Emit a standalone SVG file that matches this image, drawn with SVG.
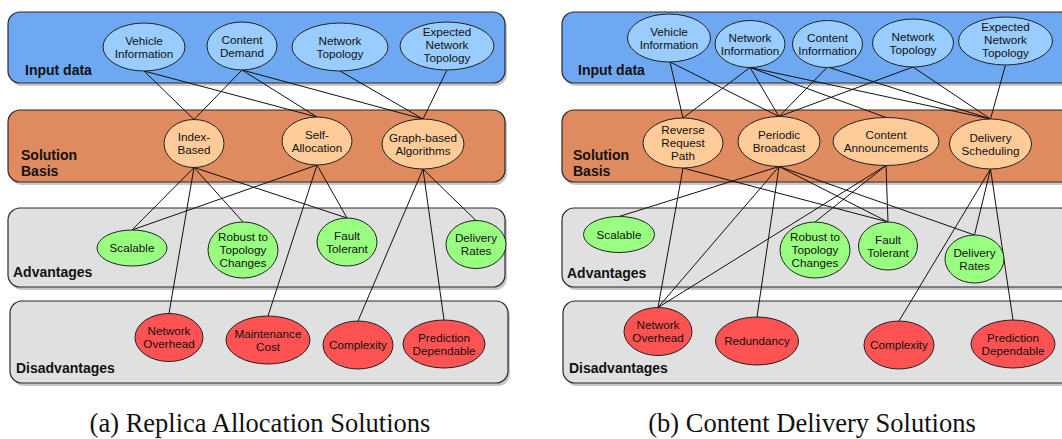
<svg xmlns="http://www.w3.org/2000/svg" width="1062" height="439" viewBox="0 0 1062 439">
<style>
.bg{fill:#ffffff}
.sh{fill:#000;opacity:0.22}
.band{stroke:#2a2a2a;stroke-width:1.2}
.inp{fill:#6FA8F2}
.sol{fill:#E08A5F}
.grey{fill:#E0E0E0}
.blab{font-family:"Liberation Sans",Arial,sans-serif;font-size:14px;font-weight:bold;fill:#111}
.n ellipse{stroke:#222;stroke-width:1}
.in ellipse{fill:#99CCFF}
.so ellipse{fill:#FFCC99}
.ad ellipse{fill:#99FF80}
.di ellipse{fill:#FF5252}
.n text{font-family:"Liberation Sans",Arial,sans-serif;font-size:11.7px;fill:#111;text-anchor:middle}
.e line{stroke:#111;stroke-width:1}
.cap{font-family:"Liberation Serif","Times New Roman",serif;font-size:26.5px;fill:#111;text-anchor:middle}
</style>
<rect class="bg" x="0" y="0" width="1062" height="439"/>

<g id="bands-left">
  <rect class="sh" x="10" y="15" width="497" height="71" rx="12"/>
  <rect class="band inp" x="8" y="12" width="497" height="71" rx="12"/>
  <rect class="sh" x="10" y="113" width="497" height="72" rx="12"/>
  <rect class="band sol" x="8" y="110" width="497" height="72" rx="12"/>
  <rect class="sh" x="10" y="211" width="497" height="79" rx="12"/>
  <rect class="band grey" x="8" y="208" width="497" height="79" rx="12"/>
  <rect class="sh" x="12" y="304" width="498" height="82" rx="12"/>
  <rect class="band grey" x="10" y="301" width="498" height="82" rx="12"/>
  <text class="blab" x="25" y="75">Input data</text>
  <text class="blab" x="21" y="160">Solution</text>
  <text class="blab" x="21" y="176">Basis</text>
  <text class="blab" x="13" y="277">Advantages</text>
  <text class="blab" x="16" y="373">Disadvantages</text>
</g>
<g id="bands-right">
  <rect class="sh" x="564" y="15" width="510" height="71" rx="12"/>
  <rect class="band inp" x="562" y="12" width="510" height="71" rx="12"/>
  <rect class="sh" x="564" y="113" width="510" height="72" rx="12"/>
  <rect class="band sol" x="562" y="110" width="510" height="72" rx="12"/>
  <rect class="sh" x="564" y="211" width="510" height="79" rx="12"/>
  <rect class="band grey" x="562" y="208" width="510" height="79" rx="12"/>
  <rect class="sh" x="565" y="304" width="510" height="82" rx="12"/>
  <rect class="band grey" x="563" y="301" width="510" height="82" rx="12"/>
  <text class="blab" x="578" y="75">Input data</text>
  <text class="blab" x="573" y="160">Solution</text>
  <text class="blab" x="573" y="176">Basis</text>
  <text class="blab" x="567" y="278">Advantages</text>
  <text class="blab" x="569" y="373">Disadvantages</text>
</g>

<g id="connectors" class="e">
  <!-- left upper -->
  <line x1="144" y1="71" x2="194" y2="119.5"/>
  <line x1="144" y1="71" x2="317" y2="117"/>
  <line x1="242" y1="70" x2="194" y2="119.5"/>
  <line x1="242" y1="70" x2="317" y2="117"/>
  <line x1="242" y1="70" x2="423" y2="119"/>
  <line x1="340" y1="71" x2="423" y2="119"/>
  <line x1="447" y1="70" x2="423" y2="119"/>
  <!-- left lower -->
  <line x1="194" y1="167.5" x2="132" y2="230"/>
  <line x1="194" y1="167.5" x2="169" y2="313.5"/>
  <line x1="194" y1="167.5" x2="243" y2="222"/>
  <line x1="194" y1="167.5" x2="347" y2="218"/>
  <line x1="317" y1="165" x2="132" y2="230"/>
  <line x1="317" y1="165" x2="268" y2="316"/>
  <line x1="317" y1="165" x2="347" y2="218"/>
  <line x1="423" y1="169" x2="358" y2="321"/>
  <line x1="423" y1="169" x2="444" y2="320"/>
  <line x1="423" y1="169" x2="476" y2="220.5"/>
  <!-- right upper -->
  <line x1="670" y1="62" x2="683" y2="118"/>
  <line x1="670" y1="62" x2="779" y2="116.5"/>
  <line x1="750" y1="67.5" x2="683" y2="118"/>
  <line x1="750" y1="67.5" x2="779" y2="116.5"/>
  <line x1="750" y1="67.5" x2="886" y2="117.5"/>
  <line x1="750" y1="67.5" x2="990.5" y2="119"/>
  <line x1="827.5" y1="67" x2="779" y2="116.5"/>
  <line x1="827.5" y1="67" x2="990.5" y2="119"/>
  <line x1="913" y1="67" x2="779" y2="116.5"/>
  <line x1="913" y1="67" x2="990.5" y2="119"/>
  <line x1="1005.5" y1="65" x2="990.5" y2="119"/>
  <!-- right lower -->
  <line x1="683" y1="168" x2="658" y2="307.5"/>
  <line x1="683" y1="168" x2="888" y2="222"/>
  <line x1="779" y1="166.5" x2="619" y2="216.5"/>
  <line x1="779" y1="166.5" x2="658" y2="307.5"/>
  <line x1="779" y1="166.5" x2="757" y2="317"/>
  <line x1="779" y1="166.5" x2="888" y2="222"/>
  <line x1="779" y1="166.5" x2="974.5" y2="235"/>
  <line x1="886" y1="165.5" x2="888" y2="222"/>
  <line x1="886" y1="165.5" x2="815" y2="222"/>
  <line x1="886" y1="165.5" x2="658" y2="307.5"/>
  <line x1="990.5" y1="169" x2="899" y2="321"/>
  <line x1="990.5" y1="169" x2="974.5" y2="235"/>
  <line x1="990.5" y1="169" x2="1013" y2="320"/>
</g>

<!-- left nodes -->
<g id="a-vehicle-information" class="n in"><ellipse cx="144" cy="47" rx="41" ry="24"/><text x="144" y="44.5">Vehicle</text><text x="144" y="57.5">Information</text></g>
<g id="a-content-demand" class="n in"><ellipse cx="242" cy="46" rx="35" ry="24"/><text x="242" y="43.5">Content</text><text x="242" y="56.5">Demand</text></g>
<g id="a-network-topology" class="n in"><ellipse cx="340" cy="47" rx="48" ry="24"/><text x="340" y="44.5">Network</text><text x="340" y="57.5">Topology</text></g>
<g id="a-expected-network-topology" class="n in"><ellipse cx="447" cy="46" rx="47" ry="24"/><text x="447" y="36">Expected</text><text x="447" y="49">Network</text><text x="447" y="62">Topology</text></g>

<g id="a-index-based" class="n so"><ellipse cx="194" cy="143.5" rx="30" ry="24"/><text x="194" y="141">Index-</text><text x="194" y="154">Based</text></g>
<g id="a-self-allocation" class="n so"><ellipse cx="317" cy="141" rx="35" ry="24"/><text x="317" y="138.5">Self-</text><text x="317" y="151.5">Allocation</text></g>
<g id="a-graph-based" class="n so"><ellipse cx="423" cy="144" rx="41" ry="25"/><text x="423" y="141.5">Graph-based</text><text x="423" y="154.5">Algorithms</text></g>

<g id="a-scalable" class="n ad"><ellipse cx="132" cy="248" rx="35" ry="18"/><text x="132" y="252">Scalable</text></g>
<g id="a-robust" class="n ad"><ellipse cx="243" cy="250" rx="35" ry="28"/><text x="243" y="241">Robust to</text><text x="243" y="254">Topology</text><text x="243" y="267">Changes</text></g>
<g id="a-fault-tolerant" class="n ad"><ellipse cx="347" cy="242" rx="30" ry="24"/><text x="347" y="239.5">Fault</text><text x="347" y="252.5">Tolerant</text></g>
<g id="a-delivery-rates" class="n ad"><ellipse cx="476" cy="244.5" rx="30" ry="24"/><text x="476" y="242">Delivery</text><text x="476" y="255">Rates</text></g>

<g id="a-network-overhead" class="n di"><ellipse cx="169" cy="337.5" rx="34" ry="24"/><text x="169" y="335">Network</text><text x="169" y="348">Overhead</text></g>
<g id="a-maintenance-cost" class="n di"><ellipse cx="268" cy="340" rx="42" ry="24"/><text x="268" y="337.5">Maintenance</text><text x="268" y="350.5">Cost</text></g>
<g id="a-complexity" class="n di"><ellipse cx="358" cy="345" rx="35" ry="24"/><text x="358" y="349">Complexity</text></g>
<g id="a-prediction-dependable" class="n di"><ellipse cx="444" cy="344" rx="41" ry="24"/><text x="444" y="341.5">Prediction</text><text x="444" y="354.5">Dependable</text></g>

<!-- right nodes -->
<g id="b-vehicle-information" class="n in"><ellipse cx="669" cy="38" rx="41.5" ry="24"/><text x="669" y="35.5">Vehicle</text><text x="669" y="48.5">Information</text></g>
<g id="b-network-information" class="n in"><ellipse cx="750" cy="44" rx="35" ry="23.5"/><text x="750" y="41.5">Network</text><text x="750" y="54.5">Information</text></g>
<g id="b-content-information" class="n in"><ellipse cx="827.5" cy="44" rx="35" ry="23.5"/><text x="827.5" y="41.5">Content</text><text x="827.5" y="54.5">Information</text></g>
<g id="b-network-topology" class="n in"><ellipse cx="913" cy="43" rx="40.5" ry="24"/><text x="913" y="40.5">Network</text><text x="913" y="53.5">Topology</text></g>
<g id="b-expected-network-topology" class="n in"><ellipse cx="1005.5" cy="41" rx="47" ry="24"/><text x="1005.5" y="31">Expected</text><text x="1005.5" y="44">Network</text><text x="1005.5" y="57">Topology</text></g>

<g id="b-reverse-request-path" class="n so"><ellipse cx="683" cy="143" rx="40" ry="25"/><text x="683" y="134">Reverse</text><text x="683" y="147">Request</text><text x="683" y="160">Path</text></g>
<g id="b-periodic-broadcast" class="n so"><ellipse cx="779" cy="141.5" rx="41" ry="25"/><text x="779" y="139">Periodic</text><text x="779" y="152">Broadcast</text></g>
<g id="b-content-announcements" class="n so"><ellipse cx="886" cy="141.5" rx="53" ry="24"/><text x="886" y="139">Content</text><text x="886" y="152">Announcements</text></g>
<g id="b-delivery-scheduling" class="n so"><ellipse cx="990.5" cy="144" rx="41" ry="25"/><text x="990.5" y="141.5">Delivery</text><text x="990.5" y="154.5">Scheduling</text></g>

<g id="b-scalable" class="n ad"><ellipse cx="619" cy="234.5" rx="35.5" ry="18"/><text x="619" y="238.5">Scalable</text></g>
<g id="b-robust" class="n ad"><ellipse cx="815" cy="250" rx="35" ry="28"/><text x="815" y="241">Robust to</text><text x="815" y="254">Topology</text><text x="815" y="267">Changes</text></g>
<g id="b-fault-tolerant" class="n ad"><ellipse cx="888" cy="246" rx="29.5" ry="24"/><text x="888" y="243.5">Fault</text><text x="888" y="256.5">Tolerant</text></g>
<g id="b-delivery-rates" class="n ad"><ellipse cx="974.5" cy="259" rx="29.5" ry="24"/><text x="974.5" y="256.5">Delivery</text><text x="974.5" y="269.5">Rates</text></g>

<g id="b-network-overhead" class="n di"><ellipse cx="658" cy="331.5" rx="34" ry="24"/><text x="658" y="329">Network</text><text x="658" y="342">Overhead</text></g>
<g id="b-redundancy" class="n di"><ellipse cx="757" cy="341" rx="41.5" ry="24"/><text x="757" y="345">Redundancy</text></g>
<g id="b-complexity" class="n di"><ellipse cx="899" cy="345" rx="35" ry="24"/><text x="899" y="349">Complexity</text></g>
<g id="b-prediction-dependable" class="n di"><ellipse cx="1013" cy="344" rx="42" ry="24"/><text x="1013" y="341.5">Prediction</text><text x="1013" y="354.5">Dependable</text></g>

<text class="cap" x="260" y="432">(a) Replica Allocation Solutions</text>
<text class="cap" x="812" y="432">(b) Content Delivery Solutions</text>
</svg>
